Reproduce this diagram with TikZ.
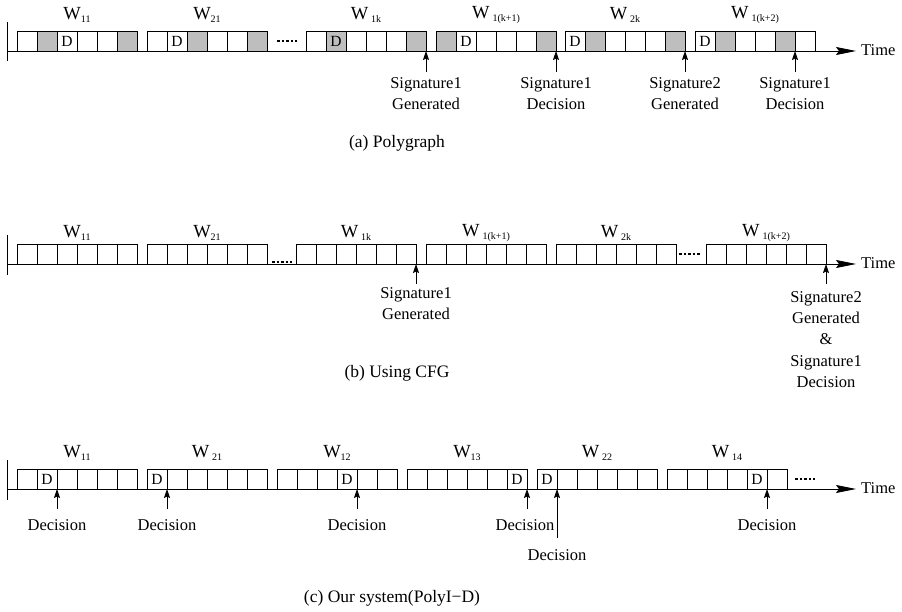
\documentclass[tikz,border=0pt]{standalone}
\usepackage{fontspec}
\setmainfont{Liberation Serif}
\usetikzlibrary{arrows.meta}

\definecolor{cellgray}{RGB}{190,190,190}

% window label: W with a small lowered index, optional gap before the index
\newcommand{\wname}[2][]{W#1\raisebox{-.35ex}{\fontsize{10}{10}\selectfont #2}}

\tikzset{
  cellbox/.style={draw, line width=0.8pt, minimum width=20pt, minimum height=20pt,
    inner sep=0pt, outer sep=0pt, anchor=south west, font=\fontsize{15.5}{15.5}\selectfont},
  cw/.style={cellbox, fill=white},
  cg/.style={cellbox, fill=cellgray},
  wlabel/.style={inner sep=0pt, font=\fontsize{18.5}{18.5}\selectfont},
  evtext/.style={inner sep=0pt, anchor=north, align=center, font=\fontsize{16.5}{21.3}\selectfont},
  caption/.style={inner sep=0pt, font=\fontsize{17.5}{17.5}\selectfont},
  timetext/.style={inner sep=0pt, anchor=west, font=\fontsize{16.5}{16.5}\selectfont},
  axisline/.style={line width=0.9pt, -{Stealth[length=20pt,width=8pt,inset=3pt]}},
  barline/.style={line width=0.9pt},
  evarrow/.style={line width=0.8pt, -{Stealth[length=9pt,width=6pt,inset=1.5pt]}},
  gapdots/.style={line width=1.6pt, dash pattern=on 2.5pt off 2pt},
}

% one observation window of six cells: name, left x, axis y, cells, label y, label
\newcommand{\tlwin}[6]{%
  \foreach \s/\t [count=\k from 0] in {#4} {
    \node[\s] (#1-\k) at ({#2+20*\k},#3) {\t};
  }
  \node[wlabel] (#1-lab) at ({#2+60},#5) {#6};
}

\begin{document}
\begin{tikzpicture}[x=1pt,y=-1pt]
\useasboundingbox (0,0) rectangle (902,612);

% ---------------- (a) Polygraph ----------------
\coordinate (a-bt) at (7,22);
\coordinate (a-bb) at (7,61);
\coordinate (a-s) at (7,51);
\coordinate (a-e) at (856,51);
\draw[barline] (a-bt) -- (a-bb);
\draw[axisline] (a-s) -- (a-e);
\node[timetext] (a-time) at (861,50) {Time};

\tlwin{a1}{17}{51}{cw/{},cg/{},cw/D,cw/{},cw/{},cg/{}}{15}{\wname{11}}
\tlwin{a2}{147}{51}{cw/{},cw/D,cg/{},cw/{},cw/{},cg/{}}{15}{\wname{21}}
\tlwin{a3}{306}{51}{cw/{},cg/D,cw/{},cw/{},cw/{},cg/{}}{15}{\wname[\kern3pt]{1k}}
\tlwin{a4}{436}{51}{cg/{},cw/D,cw/{},cw/{},cw/{},cg/{}}{15}{\wname[\kern3pt]{1(k+1)}}
\tlwin{a5}{565}{51}{cw/D,cg/{},cw/{},cw/{},cw/{},cg/{}}{15}{\wname[\kern3pt]{2k}}
\tlwin{a6}{695}{51}{cw/D,cg/{},cw/{},cw/{},cg/{},cw/{}}{15}{\wname[\kern3pt]{1(k+2)}}
\draw[gapdots] (277,41) -- (297,41);

\coordinate (a-t1) at (426,72);
\coordinate (a-t2) at (556,72);
\coordinate (a-t3) at (685,72);
\coordinate (a-t4) at (795,72);
\draw[evarrow] (a-t1) -- (a3-5.south east);
\draw[evarrow] (a-t2) -- (a4-5.south east);
\draw[evarrow] (a-t3) -- (a5-5.south east);
\draw[evarrow] (a-t4) -- (a6-4.south east);
\node[evtext] (a-l1) at (426,77) {Signature1\\Generated};
\node[evtext] (a-l2) at (556,77) {Signature1\\Decision};
\node[evtext] (a-l3) at (685,77) {Signature2\\Generated};
\node[evtext] (a-l4) at (795,77) {Signature1\\Decision};

\node[caption] (cap-a) at (397,143) {(a) Polygraph};

% ---------------- (b) Using CFG ----------------
\coordinate (b-bt) at (7,235);
\coordinate (b-bb) at (7,275);
\coordinate (b-s) at (7,264);
\coordinate (b-e) at (856,264);
\draw[barline] (b-bt) -- (b-bb);
\draw[axisline] (b-s) -- (b-e);
\node[timetext] (b-time) at (861,263) {Time};

\tlwin{b1}{17}{264}{cw/{},cw/{},cw/{},cw/{},cw/{},cw/{}}{233}{\wname{11}}
\tlwin{b2}{147}{264}{cw/{},cw/{},cw/{},cw/{},cw/{},cw/{}}{233}{\wname{21}}
\tlwin{b3}{296}{264}{cw/{},cw/{},cw/{},cw/{},cw/{},cw/{}}{233}{\wname[\kern3pt]{1k}}
\tlwin{b4}{426}{264}{cw/{},cw/{},cw/{},cw/{},cw/{},cw/{}}{233}{\wname[\kern3pt]{1(k+1)}}
\tlwin{b5}{556}{264}{cw/{},cw/{},cw/{},cw/{},cw/{},cw/{}}{233}{\wname[\kern3pt]{2k}}
\tlwin{b6}{706}{264}{cw/{},cw/{},cw/{},cw/{},cw/{},cw/{}}{233}{\wname[\kern3pt]{1(k+2)}}
\draw[gapdots] (272,262) -- (292,262);
\draw[gapdots] (679,254) -- (700,254);

\coordinate (b-t1) at (416,284);
\coordinate (b-t2) at (826,284);
\draw[evarrow] (b-t1) -- (b3-5.south east);
\draw[evarrow] (b-t2) -- (b6-5.south east);
\node[evtext] (b-l1) at (416,287) {Signature1\\Generated};
\node[evtext] (b-l2) at (826,291) {Signature2\\Generated\\\&\\Signature1\\Decision};

\node[caption] (cap-b) at (397,373) {(b) Using CFG};

% ---------------- (c) Our system ----------------
\coordinate (c-bt) at (7,460);
\coordinate (c-bb) at (7,500);
\coordinate (c-s) at (7,489);
\coordinate (c-e) at (856,489);
\draw[barline] (c-bt) -- (c-bb);
\draw[axisline] (c-s) -- (c-e);
\node[timetext] (c-time) at (861,488) {Time};

\tlwin{c1}{17}{489}{cw/{},cw/D,cw/{},cw/{},cw/{},cw/{}}{453}{\wname{11}}
\tlwin{c2}{147}{489}{cw/D,cw/{},cw/{},cw/{},cw/{},cw/{}}{453}{\wname[\kern3pt]{21}}
\tlwin{c3}{277}{489}{cw/{},cw/{},cw/{},cw/D,cw/{},cw/{}}{453}{\wname{12}}
\tlwin{c4}{407}{489}{cw/{},cw/{},cw/{},cw/{},cw/{},cw/D}{453}{\wname{13}}
\tlwin{c5}{537}{489}{cw/D,cw/{},cw/{},cw/{},cw/{},cw/{}}{453}{\wname[\kern3pt]{22}}
\tlwin{c6}{667}{489}{cw/{},cw/{},cw/{},cw/{},cw/D,cw/{}}{453}{\wname[\kern3pt]{14}}
\draw[gapdots] (795,479) -- (815,479);

\coordinate (c-t1) at (57,509);
\coordinate (c-t2) at (167,509);
\coordinate (c-t3) at (357,509);
\coordinate (c-t4) at (527,509);
\coordinate (c-t5) at (557,538);
\coordinate (c-t6) at (767,509);
\draw[evarrow] (c-t1) -- (c1-1.south east);
\draw[evarrow] (c-t2) -- (c2-0.south east);
\draw[evarrow] (c-t3) -- (c3-3.south east);
\draw[evarrow] (c-t4) -- (c4-5.south east);
\draw[evarrow] (c-t5) -- (c5-0.south east);
\draw[evarrow] (c-t6) -- (c6-4.south east);
\node[evtext] (c-l1) at (57,519) {Decision};
\node[evtext] (c-l2) at (167,519) {Decision};
\node[evtext] (c-l3) at (357,519) {Decision};
\node[evtext] (c-l4) at (525,519) {Decision};
\node[evtext] (c-l5) at (557,549) {Decision};
\node[evtext] (c-l6) at (767,519) {Decision};

\node[caption] (cap-c) at (392,598) {(c) Our system(PolyI−D)};

\end{tikzpicture}
\end{document}
